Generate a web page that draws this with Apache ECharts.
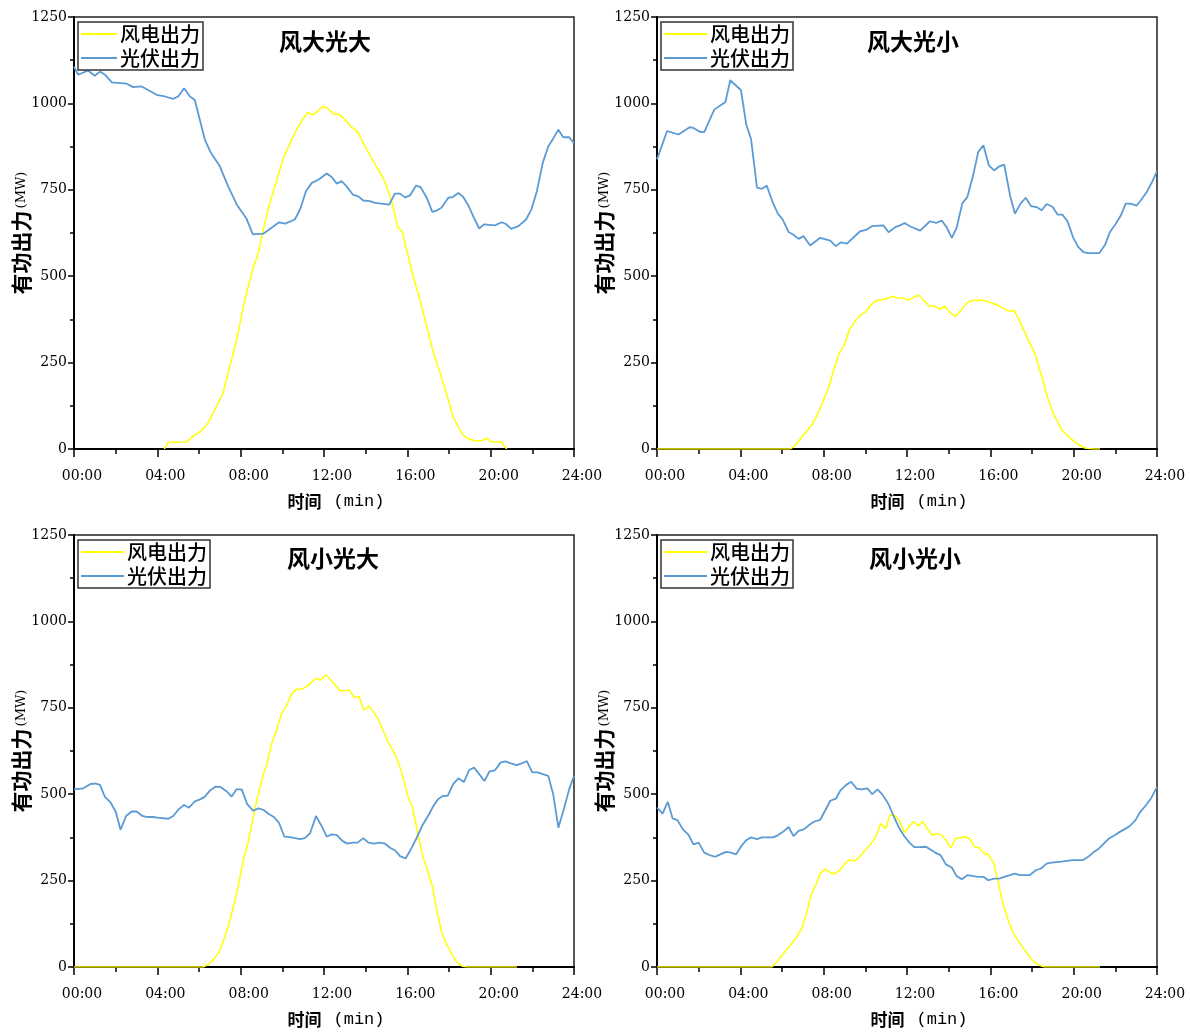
<!DOCTYPE html>
<html>
<head>
<meta charset="utf-8">
<script src="https://cdn.jsdelivr.net/npm/echarts@6/dist/echarts.min.js"></script>
<style>
  html, body { margin: 0; padding: 0; background: #fff; }
  #chart { width: 1190px; height: 1032px; }
</style>
</head>
<body>
<div id="chart"></div>
<script>
// Time in minutes since 00:00, output in MW.
const seriesNames = ['风电出力', '光伏出力'];
const panelTitles = ['风大光大', '风大光小', '风小光大', '风小光小'];
const xTickMinutes = [0, 240, 480, 720, 960, 1200, 1440];
const yTickValues = [0, 250, 500, 750, 1000, 1250];

// 风大光大
const windA = [[260,0],[272,19],[324,20],[344,38],[358,46],[372,58],[387,77],[411,125],[430,164],[444,221],[459,279],[473,337],[488,414],[502,471],[516,524],[531,568],[545,635],[564,712],[584,779],[603,842],[622,885],[641,924],[660,955],[673,974],[687,967],[701,977],[716,991],[730,986],[747,969],[761,969],[776,958],[800,931],[816,919],[833,885],[857,842],[876,808],[891,784],[905,746],[920,698],[931,645],[946,626],[958,577],[977,500],[996,433],[1016,356],[1035,279],[1054,221],[1073,159],[1091,96],[1107,63],[1121,40],[1136,29],[1155,24],[1174,24],[1189,31],[1203,20],[1232,20],[1246,0]];
const pvA = [[0,1106],[12,1083],[40,1095],[60,1080],[75,1092],[89,1083],[109,1061],[152,1057],[170,1047],[195,1049],[238,1025],[262,1020],[285,1013],[300,1020],[317,1044],[334,1020],[348,1010],[377,895],[392,861],[420,818],[444,760],[469,707],[497,666],[515,621],[545,623],[591,656],[608,652],[636,664],[651,693],[668,746],[685,770],[704,779],[728,797],[742,787],[757,768],[771,775],[785,760],[804,735],[819,731],[833,719],[852,717],[867,712],[908,707],[924,739],[939,739],[953,728],[968,734],[985,762],[998,758],[1016,727],[1032,686],[1045,690],[1059,699],[1078,727],[1091,729],[1107,741],[1121,729],[1136,704],[1152,669],[1167,638],[1181,650],[1212,647],[1232,656],[1244,651],[1259,637],[1280,645],[1302,664],[1318,695],[1333,746],[1350,828],[1366,876],[1380,898],[1395,924],[1409,902],[1426,902],[1440,885]];

// 风大光小
const windB = [[0,0],[384,0],[398,10],[422,41],[446,70],[460,95],[478,138],[494,177],[508,225],[525,278],[539,300],[554,345],[571,370],[587,389],[601,397],[617,418],[633,430],[662,435],[678,442],[692,437],[710,436],[724,430],[738,439],[753,445],[767,432],[784,413],[801,413],[815,405],[830,413],[844,394],[860,384],[875,401],[890,420],[906,430],[935,431],[954,426],[983,415],[1012,399],[1028,401],[1045,370],[1064,326],[1088,278],[1108,210],[1124,152],[1141,104],[1165,56],[1189,32],[1213,13],[1232,3],[1256,0],[1276,0]];
const pvB = [[0,838],[29,920],[62,910],[94,931],[105,929],[123,918],[136,917],[165,982],[197,1004],[211,1067],[242,1038],[257,939],[271,896],[288,756],[302,753],[316,762],[334,712],[348,681],[362,664],[379,628],[393,620],[408,608],[422,616],[441,589],[470,611],[499,603],[515,587],[530,598],[547,594],[585,630],[604,635],[620,645],[652,647],[667,627],[686,642],[700,647],[713,654],[731,643],[758,632],[786,659],[804,654],[820,661],[834,642],[849,611],[863,640],[879,710],[894,730],[911,794],[925,859],[940,879],[956,820],[971,806],[986,818],[1000,823],[1017,733],[1031,681],[1047,710],[1062,727],[1077,703],[1093,700],[1108,691],[1122,709],[1139,701],[1154,678],[1168,678],[1182,659],[1199,611],[1213,585],[1228,570],[1242,567],[1274,567],[1290,590],[1304,627],[1319,648],[1335,674],[1350,710],[1364,710],[1381,704],[1395,722],[1412,746],[1427,775],[1440,804]];

// 风小光大
const windC = [[0,0],[372,0],[387,8],[403,22],[418,43],[432,80],[447,128],[462,186],[476,249],[488,312],[500,355],[512,413],[526,481],[540,538],[555,587],[569,645],[584,688],[598,733],[612,756],[627,791],[641,804],[656,804],[670,812],[684,823],[697,836],[710,830],[725,845],[739,831],[752,815],[766,799],[779,799],[793,802],[807,780],[821,783],[835,743],[850,755],[864,736],[876,717],[891,683],[905,649],[920,625],[934,592],[948,548],[961,495],[975,461],[990,389],[1004,321],[1019,278],[1033,230],[1045,162],[1059,99],[1073,66],[1088,37],[1102,15],[1116,3],[1131,0],[1276,0]];
const pvC = [[0,514],[27,517],[46,529],[60,531],[75,527],[89,492],[104,478],[120,450],[134,397],[150,437],[166,450],[180,450],[197,437],[211,434],[228,434],[240,432],[272,429],[286,437],[300,455],[317,469],[331,461],[348,479],[363,485],[377,493],[392,511],[408,522],[422,521],[440,508],[454,493],[468,514],[483,514],[499,471],[516,452],[531,459],[545,455],[562,442],[576,434],[590,418],[606,377],[622,376],[651,370],[665,373],[680,387],[697,437],[714,406],[728,377],[742,384],[756,382],[773,365],[787,357],[803,360],[817,360],[833,373],[848,360],[864,357],[879,360],[894,358],[910,345],[924,338],[939,321],[955,314],[972,344],[987,374],[1004,411],[1021,439],[1035,466],[1048,485],[1062,495],[1076,495],[1092,529],[1107,546],[1123,535],[1138,570],[1152,577],[1167,558],[1182,538],[1196,565],[1212,569],[1229,592],[1243,595],[1258,589],[1275,584],[1289,589],[1304,596],[1320,563],[1335,563],[1350,558],[1366,553],[1380,500],[1395,403],[1411,458],[1426,514],[1440,553]];

// 风小光小
const windD = [[0,0],[331,0],[345,14],[360,34],[376,53],[390,70],[405,90],[420,119],[432,162],[443,207],[457,236],[470,271],[484,283],[499,273],[513,270],[527,281],[539,297],[553,310],[569,307],[582,317],[596,334],[611,350],[623,365],[635,389],[644,415],[659,401],[671,440],[684,439],[698,423],[713,389],[727,408],[740,421],[753,408],[765,421],[779,399],[793,381],[807,386],[820,381],[832,367],[846,345],[860,372],[875,374],[887,377],[900,372],[914,348],[927,345],[942,328],[954,326],[969,302],[983,244],[997,181],[1012,133],[1026,99],[1041,75],[1055,54],[1069,35],[1084,17],[1100,5],[1117,0],[1276,0]];
const pvD = [[0,461],[16,444],[31,478],[45,430],[59,425],[74,399],[91,382],[105,355],[120,360],[136,331],[151,324],[168,319],[182,326],[199,333],[213,331],[228,326],[243,350],[257,367],[271,375],[288,370],[302,375],[334,375],[348,381],[363,391],[379,405],[393,379],[408,394],[424,399],[438,411],[453,421],[470,426],[484,452],[499,481],[515,487],[529,512],[545,527],[559,536],[575,516],[590,514],[606,517],[620,500],[635,514],[650,498],[667,471],[681,437],[697,403],[712,379],[727,360],[741,347],[758,347],[774,348],[786,341],[801,331],[817,323],[832,297],[849,288],[863,263],[878,254],[895,266],[911,263],[925,261],[940,261],[954,251],[971,256],[986,256],[1000,261],[1031,270],[1045,266],[1074,266],[1091,280],[1106,285],[1122,299],[1136,302],[1165,305],[1197,309],[1226,309],[1242,319],[1256,331],[1273,343],[1287,357],[1302,372],[1319,382],[1333,391],[1347,399],[1362,408],[1378,425],[1392,449],[1408,468],[1424,490],[1440,521]];

const windSets = [windA, windB, windC, windD];
const pvSets = [pvA, pvB, pvC, pvD];

const WIND_COLOR = '#ffff00';
const PV_COLOR = '#5b9bd5';
const CJK = 'Noto Sans CJK SC';
const NUM = 'DejaVu Serif';

// panel layout: plot rectangles, title centres and legend boxes
const layout = [
  { left: 74,  top: 17,  titleX: 325, titleY: 30,  legendX: 78,  legendY: 22,  iconW: 36 },
  { left: 657, top: 17,  titleX: 913, titleY: 30,  legendX: 661, legendY: 22,  iconW: 43 },
  { left: 74,  top: 535, titleX: 333, titleY: 547, legendX: 78,  legendY: 540, iconW: 43 },
  { left: 657, top: 535, titleX: 915, titleY: 547, legendX: 661, legendY: 540, iconW: 43 }
];

const fmtTime = v => String(Math.floor(v / 60)).padStart(2, '0') + ':' + String(v % 60).padStart(2, '0');

const grids = [], xAxes = [], yAxes = [], series = [], titles = [], legends = [];

layout.forEach((p, i) => {
  grids.push({
    left: p.left, top: p.top, width: 500, height: 432,
    show: true, borderColor: '#222', borderWidth: 1.5, backgroundColor: 'transparent'
  });
  xAxes.push({
    type: 'value', gridIndex: i,
    min: xTickMinutes[0], max: xTickMinutes[xTickMinutes.length - 1],
    interval: xTickMinutes[1] - xTickMinutes[0],
    axisLine: { show: true, onZero: false, lineStyle: { color: '#000', width: 2 } },
    axisTick: { show: true, length: 8, lineStyle: { color: '#000', width: 1.5 } },
    minorTick: { show: true, splitNumber: 2, length: 5, lineStyle: { color: '#000', width: 1.5 } },
    splitLine: { show: false },
    axisLabel: {
      formatter: fmtTime, margin: 20, color: '#000',
      fontFamily: NUM, fontSize: 14, padding: [0, 0, 0, 16]
    },
    name: '{a|时间}{b|(min)}',
    nameLocation: 'middle', nameGap: 44,
    nameMoveOverlap: false,
    nameTextStyle: {
      color: '#000', padding: [0, 0, 0, 24],
      rich: {
        a: { fontFamily: CJK, fontWeight: 'bold', fontSize: 17, color: '#000' },
        b: { fontFamily: 'Liberation Mono', fontSize: 17, color: '#000', padding: [0, 0, 0, 12] }
      }
    }
  });
  yAxes.push({
    type: 'value', gridIndex: i,
    min: yTickValues[0], max: yTickValues[yTickValues.length - 1],
    interval: yTickValues[1] - yTickValues[0],
    axisLine: { show: true, lineStyle: { color: '#000', width: 2 } },
    axisTick: { show: true, length: 6, lineStyle: { color: '#000', width: 1.5 } },
    minorTick: { show: true, splitNumber: 2, length: 4, lineStyle: { color: '#000', width: 1.5 } },
    splitLine: { show: false },
    axisLabel: { margin: 7, color: '#000', fontFamily: NUM, fontSize: 14, formatter: v => String(v) },
    name: '{a|有功出力}{b|(MW)}',
    nameLocation: 'middle', nameRotate: 90, nameGap: 42,
    nameMoveOverlap: false,
    nameTextStyle: {
      color: '#000', padding: [0, 0, 0, 0],
      rich: {
        a: { fontFamily: CJK, fontWeight: 'bold', fontSize: 21, color: '#000' },
        b: { fontFamily: NUM, fontSize: 13, color: '#000', padding: [0, 0, 0, 2] }
      }
    }
  });
  series.push({
    name: seriesNames[0], type: 'line', xAxisIndex: i, yAxisIndex: i,
    data: windSets[i], showSymbol: false, symbol: 'none', animation: false,
    lineStyle: { color: WIND_COLOR, width: 1.5 }, itemStyle: { color: WIND_COLOR }
  });
  series.push({
    name: seriesNames[1], type: 'line', xAxisIndex: i, yAxisIndex: i,
    data: pvSets[i], showSymbol: false, symbol: 'none', animation: false,
    lineStyle: { color: PV_COLOR, width: 1.8 }, itemStyle: { color: PV_COLOR }
  });
  titles.push({
    text: panelTitles[i], left: p.titleX, top: p.titleY, textAlign: 'center', padding: 0,
    textStyle: { fontFamily: CJK, fontWeight: 'bold', fontSize: 23, color: '#000' }
  });
  legends.push({
    data: seriesNames, orient: 'vertical', left: p.legendX, top: p.legendY,
    icon: 'rect', itemWidth: p.iconW, itemHeight: 2, itemGap: 4,
    padding: [2, 3, 2, 3], borderColor: '#333', borderWidth: 1.5,
    backgroundColor: '#fff', selectedMode: false,
    textStyle: { fontFamily: CJK, fontSize: 20, fontWeight: 500, color: '#000', padding: [0, 0, 0, -2] }
  });
});

const chart = echarts.init(document.getElementById('chart'), null, { renderer: 'canvas' });
chart.setOption({
  backgroundColor: '#fff',
  animation: false,
  title: titles,
  legend: legends,
  grid: grids,
  xAxis: xAxes,
  yAxis: yAxes,
  series: series
});
</script>
</body>
</html>
